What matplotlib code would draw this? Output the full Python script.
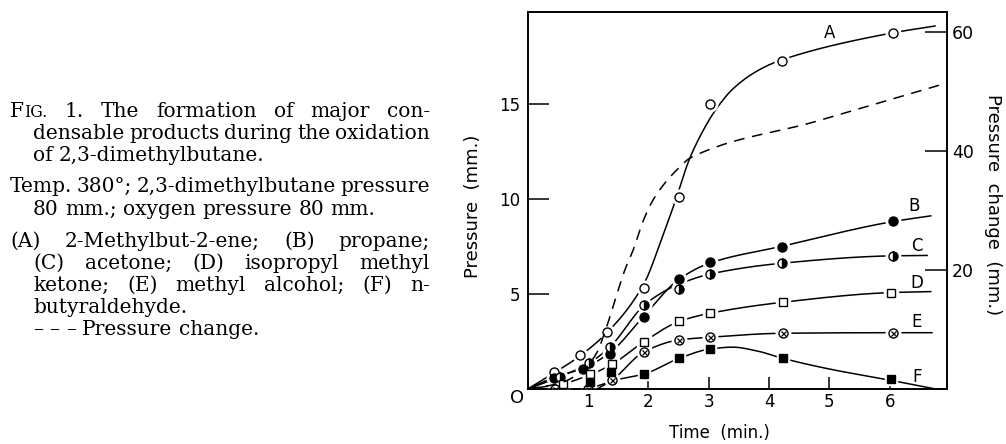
"""Formation of condensable products during oxidation of 2,3-dimethylbutane."""

import matplotlib

matplotlib.use("Agg")
import matplotlib.pyplot as plt
import numpy as np

W, H = 1006, 444
SANS = "DejaVu Sans"
SERIF = "DejaVu Serif"
CAP_SIZE = 14.5

# ---- measured points (time in min., pressure in mm.) ----
t_A = [0.44, 0.87, 1.31, 1.93, 2.50, 3.02, 4.21, 6.05]
p_A = [0.88, 1.79, 3.02, 5.30, 10.09, 15.0, 17.26, 18.72]
t_B = [0.43, 0.91, 1.36, 1.93, 2.50, 3.02, 4.21, 6.05]
p_B = [0.60, 1.04, 1.85, 3.78, 5.79, 6.65, 7.49, 8.81]
t_C = [0.54, 1.01, 1.36, 1.93, 2.50, 3.02, 4.21, 6.05]
p_C = [0.65, 1.39, 2.20, 4.40, 5.23, 6.04, 6.61, 7.00]
t_D = [0.59, 1.03, 1.40, 1.93, 2.51, 3.02, 4.23, 6.03]
p_D = [0.26, 0.77, 1.31, 2.49, 3.60, 3.98, 4.56, 5.07]
t_E = [0.46, 1.00, 1.40, 1.93, 2.51, 3.02, 4.23, 6.05]
p_E = [0.0, 0.0, 0.47, 1.96, 2.58, 2.72, 2.93, 2.96]
t_F = [1.03, 1.38, 1.93, 2.51, 3.02, 4.23, 6.03]
p_F = [0.38, 0.91, 0.79, 1.61, 2.10, 1.61, 0.51]

# ---- hand-drawn curves ----
cA_t = [0, 0.44, 0.87, 1.31, 1.93, 2.20, 2.47, 2.67, 2.86, 3.10, 3.41, 3.85, 4.21, 6.05, 6.75]
cA_p = [0, 0.85, 1.75, 2.95, 5.55, 7.70, 10.1, 12.0, 13.3, 14.6, 15.8, 16.8, 17.3, 18.72, 19.08]
cB_t = [0, 0.43, 0.91, 1.36, 1.93, 2.50, 3.02, 4.21, 6.05, 6.68]
cB_p = [0, 0.60, 1.08, 1.90, 3.85, 5.75, 6.62, 7.50, 8.80, 9.10]
cC_t = [0, 0.54, 1.01, 1.36, 1.93, 2.30, 2.50, 3.02, 4.21, 6.05, 6.62]
cC_p = [0, 0.65, 1.35, 2.20, 4.40, 5.20, 5.50, 6.04, 6.61, 7.00, 7.02]
cD_t = [0, 0.59, 1.03, 1.40, 1.93, 2.51, 3.02, 4.23, 6.03, 6.68]
cD_p = [0, 0.28, 0.75, 1.30, 2.50, 3.55, 3.98, 4.56, 5.07, 5.12]
cE_t = [1.15, 1.40, 1.93, 2.51, 3.02, 4.23, 6.05, 6.70]
cE_p = [0.0, 0.47, 1.96, 2.58, 2.72, 2.93, 2.96, 2.96]
cF_t = [1.10, 1.50, 1.93, 2.51, 3.02, 3.40, 3.80, 4.23, 5.00, 6.03, 6.76]
cF_p = [0.10, 0.50, 0.79, 1.61, 2.10, 2.20, 2.00, 1.61, 1.05, 0.45, 0.0]

# pressure change (right axis, mm.)
dp_t = [0, 0.54, 0.92, 1.14, 1.31, 1.45, 1.61, 1.75, 1.92, 2.08, 2.25, 2.53, 2.69, 4.79, 6.94]
dp_p = [0, 1.0, 3.2, 6.0, 10.5, 15.0, 20.0, 23.4, 28.4, 31.8, 34.3, 37.4, 38.8, 45.0, 51.4]

labels = ["A", "B", "C", "D", "E", "F"]
label_t = [5.01, 6.40, 6.45, 6.45, 6.45, 6.45]
label_p = [18.7, 9.6, 7.5, 5.56, 3.54, 0.65]

# (text, left edge px, baseline px, justified)
caption = [
    ("FIG. 1.  The formation of major con-", 10, 117, True),
    ("densable products during the oxidation", 33, 139, True),
    ("of  2,3-dimethylbutane.", 33, 161, False),
    ("Temp. 380°; 2,3-dimethylbutane pressure", 10, 192, True),
    ("80 mm.;  oxygen pressure 80 mm.", 33, 215, False),
    ("(A) 2-Methylbut-2-ene;  (B)  propane;", 10, 247, True),
    ("(C)  acetone;  (D)  isopropyl  methyl", 33, 269, True),
    ("ketone;  (E)  methyl alcohol;  (F)  n-", 33, 291, True),
    ("butyraldehyde.", 33, 313, False),
    ("– – – Pressure change.", 33, 335, False),
]
CAP_RIGHT = 430


def pchip(x, y, xs):
    x = np.asarray(x, float)
    y = np.asarray(y, float)
    h = np.diff(x)
    d = np.diff(y) / h
    m = np.zeros_like(y)
    m[0], m[-1] = d[0], d[-1]
    for k in range(1, len(x) - 1):
        if d[k - 1] * d[k] > 0:
            w1 = 2 * h[k] + h[k - 1]
            w2 = h[k] + 2 * h[k - 1]
            m[k] = (w1 + w2) / (w1 / d[k - 1] + w2 / d[k])
    idx = np.clip(np.searchsorted(x, xs) - 1, 0, len(x) - 2)
    s = (xs - x[idx]) / h[idx]
    h00 = 2 * s**3 - 3 * s**2 + 1
    h10 = s**3 - 2 * s**2 + s
    h01 = -2 * s**3 + 3 * s**2
    h11 = s**3 - s**2
    return h00 * y[idx] + h10 * h[idx] * m[idx] + h01 * y[idx + 1] + h11 * h[idx] * m[idx + 1]


def smooth(ax, tt, pp, **kw):
    xs = np.linspace(tt[0], tt[-1], 300)
    ax.plot(xs, pchip(tt, pp, xs), color="black", lw=1.1, zorder=2, **kw)


def points(ax, tt, pp, marker, ms, **kw):
    ax.plot(tt, pp, ls="none", marker=marker, ms=ms + 4, mfc="white", mec="white", zorder=3)
    ax.plot(tt, pp, ls="none", marker=marker, ms=ms, mec="black", mew=1.0, zorder=4, **kw)


fig = plt.figure(figsize=(W / 100, H / 100), dpi=100)
ax = fig.add_axes([527.7 / W, 1 - 389 / H, (947 - 527.7) / W, (389 - 12.3) / H])
ax2 = ax.twinx()

for tt, pp in [(cA_t, cA_p), (cB_t, cB_p), (cC_t, cC_p), (cD_t, cD_p), (cE_t, cE_p), (cF_t, cF_p)]:
    smooth(ax, tt, pp)

points(ax, t_A, p_A, "o", 6.5, mfc="white")
points(ax, t_B, p_B, "o", 6.5, mfc="black")
points(ax, t_C, p_C, "o", 6.5, mfc="black", fillstyle="right", markerfacecoloralt="white")
points(ax, t_D, p_D, "s", 5.8, mfc="white")
points(ax, t_E, p_E, "o", 6.5, mfc="white")
ax.plot(t_E, p_E, ls="none", marker="x", ms=3.6, mec="black", mew=0.9, zorder=5)
points(ax, t_F, p_F, "s", 5.2, mfc="black")

for lab, tx, py in zip(labels, label_t, label_p):
    ax.text(tx, py, lab, fontsize=12, family=SANS, ha="center", va="center")

xs = np.linspace(dp_t[0], dp_t[-1], 400)
ax2.plot(xs, pchip(dp_t, dp_p, xs), color="black", lw=1.1, dashes=(7, 5))

ax.set_xlim(0, 6.95)
ax.set_ylim(0, 19.8)
ax2.set_ylim(0, 63.3)
ax.set_xticks([1, 2, 3, 4, 5, 6])
ax.set_yticks([5, 10, 15])
ax2.set_yticks([20, 40, 60])
ax.tick_params(axis="x", direction="in", length=9, width=1.1, pad=3, labelsize=12)
ax.tick_params(axis="y", direction="in", length=15, width=1.1, pad=5.5, labelsize=12)
ax2.tick_params(axis="y", direction="in", length=16, width=1.1, pad=3.6, labelsize=12.5)
for a in (ax, ax2):
    for sp in a.spines.values():
        sp.set_linewidth(1.2)

fig.text(517 / W, 1 - 398 / H, "O", fontsize=13, family=SANS, ha="center", va="center")
fig.text(719 / W, 1 - 433 / H, "Time  (min.)", fontsize=12, family=SANS, ha="center", va="center")
fig.text(473 / W, 1 - 206 / H, "Pressure  (mm.)", fontsize=13, family=SANS,
         rotation=90, ha="center", va="center")
fig.text(993 / W, 1 - 205 / H, "Pressure  change  (mm.)", fontsize=13, family=SANS,
         rotation=270, ha="center", va="center")

# caption, justified like the printed page ("FIG." in small capitals)
renderer = fig.canvas.get_renderer()


def word_pieces(wd):
    if wd == "FIG.":
        return [("F", CAP_SIZE), ("IG.", CAP_SIZE * 0.78)]
    return [(wd, CAP_SIZE)]


def width_of(text, size):
    t = fig.text(0, 0, text, fontsize=size, family=SERIF)
    w = t.get_window_extent(renderer).width
    t.remove()
    return w


space = width_of("a b", CAP_SIZE) - width_of("ab", CAP_SIZE)
for line, x0, y0, justify in caption:
    words = line.split()
    pieces = [word_pieces(wd) for wd in words]
    widths = [sum(width_of(s, z) for s, z in pc) for pc in pieces]
    gap = space
    if justify:
        gap = max((CAP_RIGHT - x0 - sum(widths)) / (len(words) - 1), 2.5)
    x = x0
    for pc, w in zip(pieces, widths):
        xx = x
        for s, z in pc:
            fig.text(xx / W, 1 - y0 / H, s, fontsize=z, family=SERIF, va="baseline")
            xx += width_of(s, z)
        x += w + gap

fig.savefig("out.png", dpi=100, facecolor="white")
